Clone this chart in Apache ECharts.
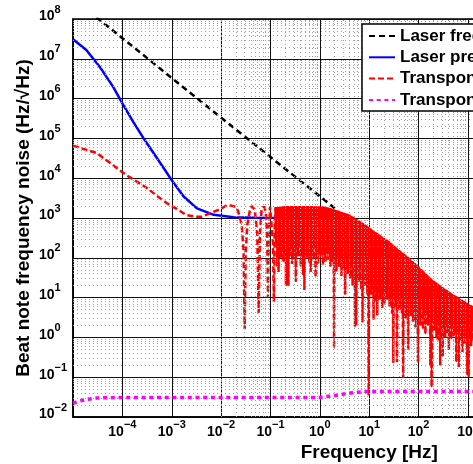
<!DOCTYPE html>
<html><head><meta charset="utf-8">
<script src="https://cdn.jsdelivr.net/npm/echarts@6/dist/echarts.min.js"></script>
<style>html,body{margin:0;padding:0;background:#fff}#c{width:473px;height:464px}</style>
</head><body><div id="c"></div>
<script>
const FONT = '"Liberation Sans", Arial, Helvetica, sans-serif';
const seriesNames = ['Laser frequency noise', 'Laser prestabilization', 'Transponder noise', 'Transponder noise floor'];
const xAxisName = 'Frequency [Hz]';
const yAxisName = 'Beat note frequency noise (Hz/\u221AHz)';

// black dashed
const laserFreq = [1e-5, 1e-4, 1e-3, 1e-2, 1e-1, 1, 2];
const laserVal  = [3.3e8, 3.3e7, 3.3e6, 3.3e5, 3.4e4, 3.5e3, 1.75e3];

// blue solid
const preFreq = [1e-5, 1.86e-5, 3.47e-5, 6.46e-5, 1e-4, 1.66e-4, 2.69e-4, 4.27e-4, 6.9e-4, 1.05e-3, 1.74e-3, 3.24e-3, 7.1e-3, 1.78e-2, 5e-2, 1];
const preVal  = [3.1e7, 1.66e7, 6.3e6, 2.0e6, 7.6e5, 2.6e5, 1.0e5, 4.3e4, 1.78e4, 8100, 3470, 1740, 1200, 1050, 1010, 1000];

// red dashed, [frequency, value] pairs
const transLow = [[1e-5,66000],[2e-5,50000],[3e-5,43000],[5e-5,27000],[7.8e-5,17800],[1.2e-4,12000],[2e-4,8100],[3.2e-4,5600],[5e-4,3600],[8e-4,2350],
  [1.3e-3,1650],[2e-3,1180],[3e-3,1080],[4e-3,1070],[6e-3,1320],[1e-2,1700],[1.3e-2,2100],[1.6e-2,2050],[2e-2,1900],[2.2e-2,1500],
  [2.6e-2,700],[2.85e-2,150],[3.0e-2,1.6],[3.15e-2,150],[3.4e-2,700],[3.8e-2,1500],[4.2e-2,2000],[4.8e-2,1600],[5.4e-2,400],[5.75e-2,4.1],
  [6.1e-2,400],[6.6e-2,1600],[7.3e-2,1950],[8.0e-2,1500],[8.6e-2,300],[8.9e-2,10],[9.2e-2,400],[9.8e-2,1900],[0.105,1700],[0.112,250],
  [0.117,7.8],[0.121,400]];
const transDecM1 = [[0.1259,1860],[0.1296,200],[0.1334,1880],[0.1373,60],[0.1413,1900],[0.1454,44],[0.1496,1910],[0.1540,160],
  [0.1585,1920],[0.1631,100],[0.1679,1940],[0.1728,250],[0.1778,1950],[0.1830,80],[0.1884,1960],[0.1939,130],
  [0.1995,1980],[0.2054,20],[0.2113,1990],[0.2175,180],[0.2239,2000],[0.2304,20],[0.2371,2000],[0.2441,110],
  [0.2512,2000],[0.2585,200],[0.2661,2000],[0.2738,70],[0.2818,2000],[0.2901,140],[0.2985,2000],[0.3073,90],
  [0.3162,2000],[0.3255,25],[0.3350,2000],[0.3448,160],[0.3548,2000],[0.3652,110],[0.3758,2000],[0.3868,220],
  [0.3981,2000],[0.4097,60],[0.4217,2000],[0.4340,150],[0.4467,2000],[0.4597,37],[0.4732,2000],[0.4870,15.5],
  [0.5012,2000],[0.5158,170],[0.5309,2000],[0.5464,100],[0.5623,2000],[0.5788,200],[0.5957,2000],[0.6131,75],
  [0.6310,2000],[0.6494,44],[0.6683,2000],[0.6879,140],[0.7079,2000],[0.7286,90],[0.7499,2000],[0.7718,180],
  [0.7943,1980],[0.8175,32],[0.8414,1970],[0.8660,120],[0.8913,1960],[0.9173,70],[0.9441,1950],[0.9716,150]];
const transDec0 = [[1.0,1950],[1.029,100],[1.059,1945],[1.090,150],[1.122,1935],[1.155,66],[1.189,1920],[1.223,120],
  [1.259,1905],[1.296,80],[1.334,1870],[1.373,160],[1.413,1840],[1.454,90],[1.496,1810],[1.540,130],
  [1.585,1780],[1.631,60],[1.679,1740],[1.728,110],[1.778,1700],[1.830,80],[1.884,1660],[1.939,0.54],
  [1.995,1620],[2.054,100],[2.113,1585],[2.175,45],[2.239,1550],[2.304,90],[2.371,1510],[2.441,60],
  [2.512,1480],[2.585,120],[2.661,1440],[2.738,35],[2.818,1400],[2.901,80],[2.985,1370],[3.073,50],
  [3.162,1330],[3.255,12],[3.350,1300],[3.448,70],[3.548,1270],[3.652,40],[3.758,1235],[3.868,90],
  [3.981,1200],[4.097,30],[4.217,1150],[4.340,60],[4.467,1100],[4.597,20],[4.732,1057],[4.870,70],
  [5.012,1010],[5.158,1.8],[5.309,970],[5.464,2.0],[5.623,930],[5.788,50],[5.957,890],[6.131,25],
  [6.310,850],[6.494,60],[6.683,810],[6.879,16],[7.079,773],[7.286,2.4],[7.499,735],[7.718,40],
  [7.943,700],[8.175,20],[8.414,667],[8.660,45],[8.913,635],[9.173,12],[9.441,604],[9.716,0.035]];
const transDec1 = [[10.0,575],[10.29,30],[10.59,546],[10.90,12],[11.22,519],[11.55,20],[11.89,493],[12.23,2.8],
  [12.59,468],[12.96,15],[13.34,444],[13.73,8],[14.13,422],[14.54,3.6],[14.96,400],[15.40,14],
  [15.85,380],[16.31,9],[16.79,362],[17.28,18],[17.78,345],[18.30,5.5],[18.84,328],[19.39,12],
  [19.95,313],[20.54,7],[21.13,298],[21.75,15],[22.39,284],[23.04,9],[23.71,270],[24.41,20],
  [25.12,257],[25.85,6],[26.61,242],[27.38,11],[28.18,228],[29.01,4],[29.85,214],[30.73,0.23],
  [31.62,202],[32.55,10],[33.50,190],[34.48,6],[35.48,179],[36.52,0.24],[37.58,168],[38.68,9],
  [39.81,158],[40.97,5],[42.17,150],[43.40,12],[44.67,141],[45.97,4],[47.32,133],[48.70,0.095],
  [50.12,126],[51.58,7],[53.09,119],[54.64,3],[56.23,112],[57.88,8],[59.57,106],[61.31,0.5],
  [63.10,100],[64.94,6],[66.83,94],[68.79,3.5],[70.79,88],[72.86,7],[74.99,83],[77.18,2.5],
  [79.43,78],[81.75,5],[84.14,73],[86.60,1.8],[89.13,68],[91.73,4],[94.41,64],[97.16,0.23]];
const transDec2 = [[100,60],[102.9,4],[105.9,56],[109.0,2],[112.2,52],[115.5,5],[118.9,48.5],[122.3,1.6],
  [125.9,45],[129.6,3.5],[133.4,42],[137.3,1.2],[141.3,39],[145.4,4],[149.6,36.4],[154.0,2],
  [158.5,33.9],[163.1,3],[167.9,32],[172.8,0.2],[177.8,30.2],[183.0,0.056],[188.4,28.5],[193.9,2.5],
  [199.5,26.9],[205.4,1.5],[211.3,25.4],[217.5,3],[223.9,24],[230.4,1.0],[237.1,22.6],[244.1,0.85],
  [251.2,21.4],[258.5,2.2],[266.1,20.4],[273.8,0.2],[281.8,19.4],[290.1,1.8],[298.5,18.5],[307.3,0.32],
  [316.2,17.6],[325.5,2],[335.0,16.7],[344.8,1.0],[354.8,15.9],[365.2,2.4],[375.8,15.2],[386.8,1.3],
  [398.1,14.5],[409.7,0.48],[421.7,13.8],[434.0,1.8],[446.7,13.2],[459.7,0.9],[473.2,12.6],[487.0,2],
  [501.2,12.0],[515.8,1.1],[530.9,11.5],[546.4,1.6],[562.3,11.0],[578.8,0.24],[595.7,10.5],[613.1,1.5],
  [631.0,10],[649.4,0.18],[668.3,9.6],[687.9,1.4],[707.9,9.2],[728.6,0.8],[749.9,8.8],[771.8,0.43],
  [794.3,8.4],[817.5,1.5],[841.4,8.1],[866.0,0.7],[891.3,7.7],[917.3,1.3],[944.1,7.4],[971.6,0.115]];
const transDec3 = [[1000,7.1],[1029,0.1],[1059,6.8],[1090,1.2],[1122,6.5],[1155,0.6],[1189,6.2],[1223,1.4],
  [1259,5.9],[1296,0.8],[1334,5.6],[1373,1.2],[1413,5.3],[1454,0.5],[1496,5.0],[1540,1.0],[1585,4.8]];

// magenta dash-dot
const floorFreq = [1e-5, 1.3e-5, 2e-5, 3e-5, 1e-4, 1, 1.26, 1.86, 2.8, 4.1, 5.9, 8.9, 1e7];
const floorVal  = [0.022, 0.025, 0.028, 0.030, 0.031, 0.031, 0.0324, 0.034, 0.037, 0.040, 0.042, 0.0437, 0.044];

const xMin = 1e-5, xMax = 1e7;
const yMin = 1e-2, yMax = 1e8;

function zip(a, b) { return a.map((v, i) => [v, b[i]]); }
function expLabel(v) {
  const e = Math.round(Math.log10(v));
  const s = e < 0 ? '\u2212' + (-e) : String(e);
  return '{b|10}{e|' + s + '}';
}
const richLab = {
  b: { fontFamily: FONT, fontSize: 14, fontWeight: 'bold', color: '#000', lineHeight: 16 },
  e: { fontFamily: FONT, fontSize: 11, fontWeight: 'bold', color: '#000', lineHeight: 12, padding: [0, 0, 14, 0] }
};

const minorLines = [];
for (let k = -5; k < 7; k++) for (let m = 2; m < 10; m++) minorLines.push({ xAxis: m * Math.pow(10, k) });
for (let k = -2; k < 8; k++) for (let m = 2; m < 10; m++) minorLines.push({ yAxis: m * Math.pow(10, k) });

const transDense = [].concat(transDecM1, transDec0, transDec1, transDec2, transDec3);
const transData = [].concat(transLow, transDense);

const chart = echarts.init(document.getElementById('c'), null, { renderer: 'canvas', width: 473, height: 464 });
chart.setOption({
  animation: false,
  backgroundColor: '#fff',
  grid: { left: 73, top: 19, bottom: 47, right: -192.5, show: true, borderColor: '#000', borderWidth: 1.5, backgroundColor: '#fff', containLabel: false, outerBoundsMode: 'none' },
  legend: {
    data: seriesNames, orient: 'vertical', left: 362, top: 24,
    padding: [3.5, 8, 2.6, 6], itemWidth: 26, itemHeight: 14, itemGap: 4.3,
    borderColor: '#000', borderWidth: 1.5, backgroundColor: '#fff', borderRadius: 0,
    itemStyle: { opacity: 0 },
    textStyle: { fontFamily: FONT, fontSize: 17, fontWeight: 'bold', color: '#000', lineHeight: 17 },
    selectedMode: false, z: 20
  },
  xAxis: {
    type: 'log', logBase: 10, min: xMin, max: xMax, interval: 1, splitNumber: 12,
    axisLine: { onZero: false, lineStyle: { color: '#000', width: 1.5 } },
    axisTick: { show: false },
    axisLabel: { formatter: expLabel, rich: richLab, margin: 7, showMinLabel: false, interval: 0 },
    splitLine: { show: true, lineStyle: { color: '#111', width: 1 } },
    name: xAxisName, nameLocation: 'middle', nameGap: 26, nameMoveOverlap: false,
    nameTextStyle: { fontFamily: FONT, fontSize: 19, fontWeight: 'bold', color: '#000' }
  },
  yAxis: {
    type: 'log', logBase: 10, min: yMin, max: yMax, interval: 1, splitNumber: 10,
    axisLine: { onZero: false, lineStyle: { color: '#000', width: 1.5 } },
    axisTick: { show: false },
    axisLabel: { formatter: expLabel, rich: richLab, margin: 34, align: 'left', interval: 0, padding: [0, 0, 5, 0] },
    splitLine: { show: true, lineStyle: { color: '#111', width: 1 } },
    name: yAxisName, nameLocation: 'middle', nameGap: 40, nameMoveOverlap: false,
    nameTextStyle: { fontFamily: FONT, fontSize: 19, fontWeight: 'bold', color: '#000' }
  },
  series: [
    {
      type: 'line', name: 'minor-grid', data: [[xMin, yMin]], symbol: 'none', silent: true, z: 1,
      lineStyle: { opacity: 0 },
      markLine: {
        silent: true, symbol: ['none', 'none'], label: { show: false }, animation: false,
        emphasis: { disabled: true },
        lineStyle: { color: '#a0a0a0', width: 1, type: [1, 3] },
        data: minorLines
      }
    },
    {
      type: 'line', name: seriesNames[0], data: zip(laserFreq, laserVal), symbol: 'none', z: 3,
      color: '#000', lineStyle: { color: '#000', width: 2.5, type: [6, 4] }
    },
    {
      type: 'line', name: seriesNames[1], data: zip(preFreq, preVal), symbol: 'none', z: 3,
      color: '#0000ff', lineStyle: { color: '#0000ff', width: 2.5 }
    },
    {
      type: 'line', name: seriesNames[2], data: transData, symbol: 'none', z: 4,
      color: '#ff0000', lineStyle: { color: '#ff0000', width: 2.5, type: [6, 3] }
    },
    {
      // dense part of the same curve, solid underlay so the tightly packed oscillations read as a filled band
      type: 'line', name: seriesNames[2], data: transDense, symbol: 'none', z: 3, silent: true,
      color: '#ff0000', lineStyle: { color: '#ff0000', width: 1.2 }
    },
    {
      type: 'line', name: seriesNames[3], data: zip(floorFreq, floorVal), symbol: 'none', z: 5,
      color: '#ff00ff', lineStyle: { color: '#ff00ff', width: 3.5, type: [4, 3.7] }
    }
  ]
});
</script>
</body></html>
